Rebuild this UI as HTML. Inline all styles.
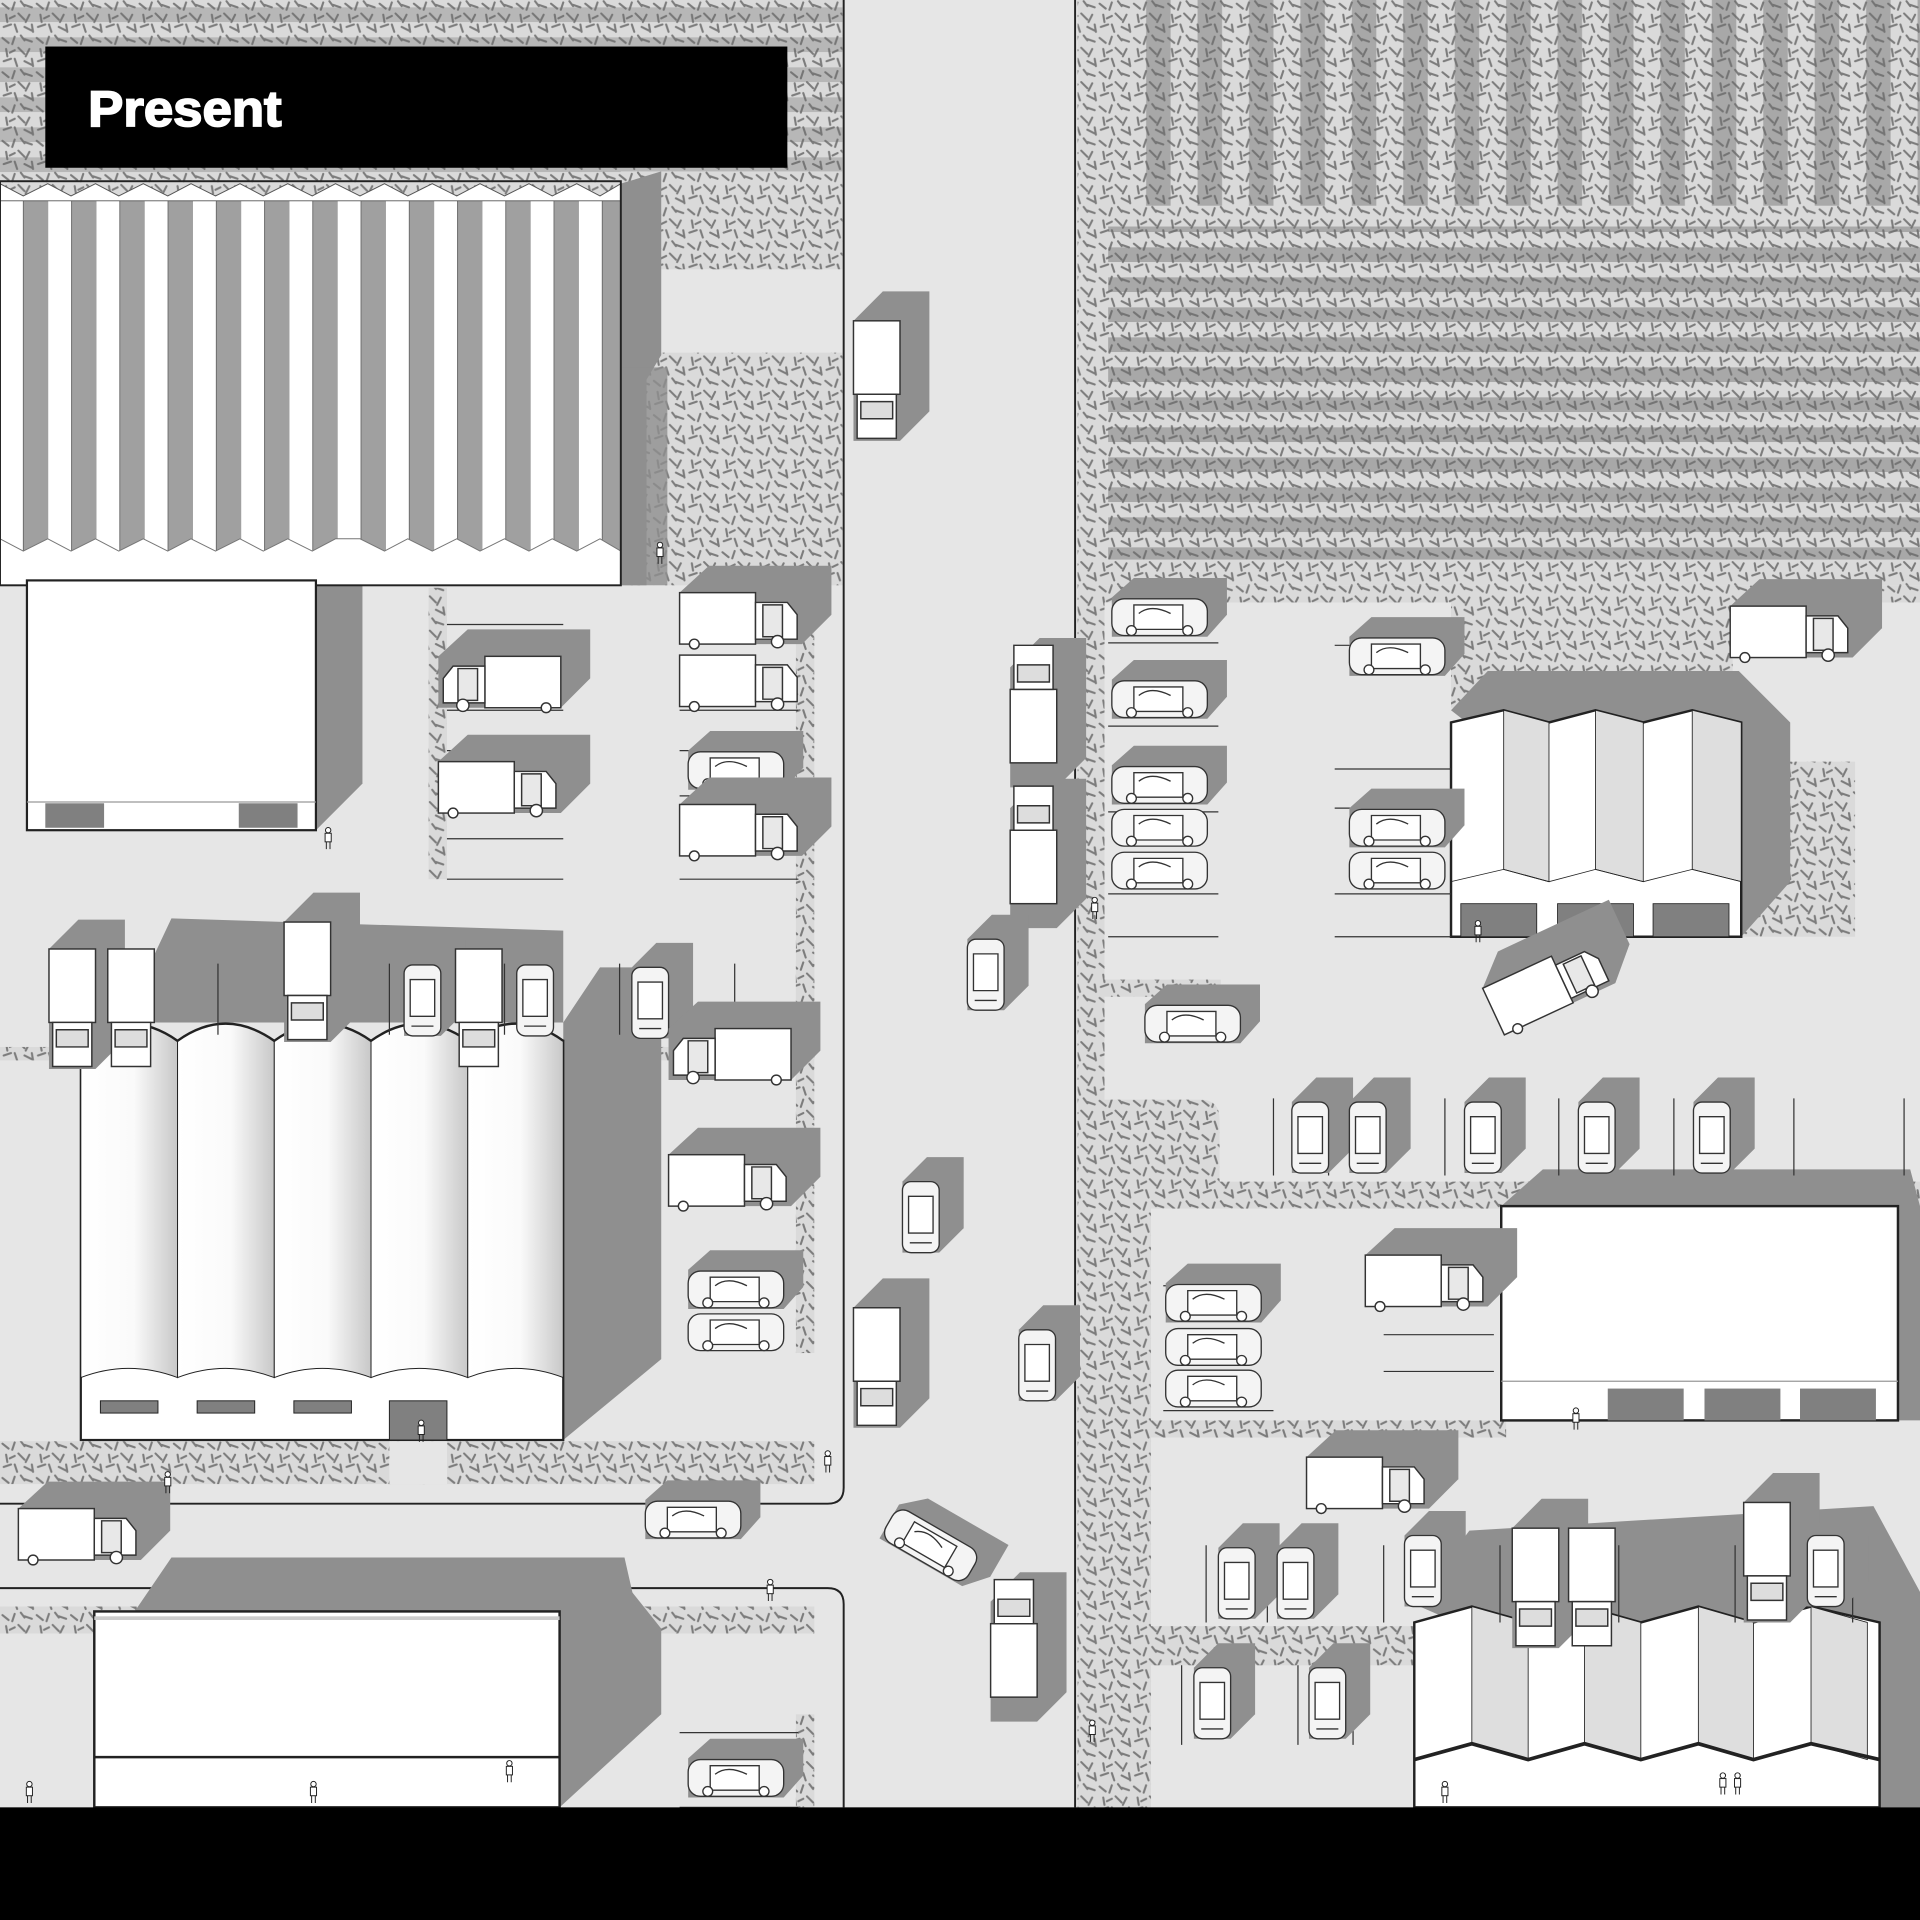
<!DOCTYPE html>
<html><head><meta charset="utf-8"><style>html,body{margin:0;padding:0;background:#e6e6e6;width:1920px;height:1920px;overflow:hidden}svg{display:block}</style></head>
<body>
<svg width="1920" height="1920" viewBox="0 0 1568 1568" xmlns="http://www.w3.org/2000/svg">
<defs>
<pattern id="tx" width="28" height="28" patternUnits="userSpaceOnUse">
<rect width="28" height="28" fill="#dadada"/>
<g stroke="#7c7c7c" stroke-width="1.7" stroke-linecap="round">
<path d="M2 3l5 4M12 2l-2 6M20 4l6 2M5 12l1 6M15 11l5 5M24 12l-3 6M3 22l6-2M12 20l2 6M20 22l6 3M8 15l4-2M17 1l3 4M26 20l1 6"/>
</g></pattern>
<pattern id="vst" width="42" height="10" patternUnits="userSpaceOnUse"><rect x="12" width="20" height="10" fill="#6a6a6a" opacity="0.45"/></pattern>
<pattern id="hst" width="10" height="24.5" patternUnits="userSpaceOnUse"><rect y="6" width="10" height="12" fill="#6a6a6a" opacity="0.45"/></pattern>
<pattern id="saw" width="39.4" height="10" patternUnits="userSpaceOnUse"><rect width="39.4" height="10" fill="#fff"/><rect x="19" width="20.4" height="10" fill="#a0a0a0"/><line x1="19" y1="0" x2="19" y2="10" stroke="#555" stroke-width="0.6"/></pattern>
<linearGradient id="vault" x1="0" x2="1"><stop offset="0" stop-color="#fff"/><stop offset="0.55" stop-color="#fafafa"/><stop offset="1" stop-color="#c8c8c8"/></linearGradient>
<g id="shTH"><polygon points="0,0 24,-22 124,-22 124,18 100,42 0,42" fill="#8f8f8f"/></g>
<g id="truckH" stroke="#333" stroke-width="1.2"><rect x="0" y="0" width="62" height="42" fill="#fff"/><path d="M62 8h26l8 10v20h-34z" fill="#fff"/><path d="M68 10h16v26h-16z" fill="#e8e8e8"/><circle cx="12" cy="42" r="4" fill="#fff"/><circle cx="80" cy="40" r="5" fill="#fff"/></g>
<g id="shCH"><polygon points="0,0 18,-16 94,-16 94,14 78,32 0,32" fill="#8f8f8f"/></g>
<g id="carH" stroke="#333" stroke-width="1.1"><rect x="0" y="1" width="78" height="30" rx="10" fill="#f4f4f4"/><path d="M18 6h40v20h-40z" fill="#fff"/><path d="M22 13q10-8 26 0" fill="none"/><circle cx="16" cy="27" r="4" fill="#fff"/><circle cx="62" cy="27" r="4" fill="#fff"/></g>
<g id="shTV"><polygon points="0,0 24,-24 62,-24 62,74 38,98 0,98" fill="#8f8f8f"/></g>
<g id="truckV" stroke="#333" stroke-width="1.2"><rect x="0" y="0" width="38" height="60" fill="#fff"/><path d="M3 60h32v36h-32z" fill="#fff"/><path d="M6 66h26v14h-26z" fill="#ddd"/></g>
<g id="shCV"><polygon points="0,0 20,-20 50,-20 50,38 30,58 0,58" fill="#8f8f8f"/></g>
<g id="carV" stroke="#333" stroke-width="1.1"><rect x="0" y="0" width="30" height="58" rx="7" fill="#f4f4f4"/><path d="M5 12h20v30h-20z" fill="#fff"/><path d="M6 50h18" fill="none"/></g>
<g id="ppl" stroke="#222" stroke-width="0.8" fill="#fff"><circle cx="4" cy="2" r="2.2"/><rect x="1.5" y="4.5" width="5" height="7"/><path d="M2.5 11.5v6M5.5 11.5v6" fill="none"/></g>
</defs>

<rect width="1568" height="1568" fill="#e6e6e6"/>

<rect x="880" y="0" width="688" height="478" fill="url(#tx)"/>
<rect x="930" y="0" width="638" height="168" fill="url(#vst)"/>
<rect x="905" y="185" width="663" height="272" fill="url(#hst)"/>
<rect x="0" y="0" width="688" height="160" fill="url(#tx)"/>
<rect x="0" y="0" width="688" height="150" fill="url(#hst)" opacity="0.7"/>
<rect x="507" y="140" width="181" height="80" fill="url(#tx)"/>
<rect x="507" y="220" width="181" height="68" fill="#e6e6e6"/>
<rect x="507" y="288" width="181" height="190" fill="url(#tx)"/>
<polygon points="507,150 540,140 540,290 528,310 528,478 507,478" fill="#8f8f8f"/>
<polygon points="507,300 545,300 545,478 507,478" fill="#8f8f8f" opacity="0.8"/>

<path d="M689 0V1215q0 13 -13 13H0" fill="none" stroke="#222" stroke-width="1.6"/>
<path d="M0 1297H676q13 0 13 13V1476" fill="none" stroke="#222" stroke-width="1.6"/>
<line x1="878" y1="0" x2="878" y2="1476" stroke="#222" stroke-width="1.6"/>

<rect x="350" y="480" width="15" height="238" fill="url(#tx)"/>
<rect x="650" y="480" width="15" height="375" fill="url(#tx)"/>
<rect x="650" y="785" width="15" height="320" fill="url(#tx)"/>
<rect x="0" y="855" width="665" height="11" fill="url(#tx)"/>
<rect x="0" y="1177" width="665" height="35" fill="url(#tx)"/>
<rect x="0" y="1312" width="665" height="22" fill="url(#tx)"/>
<rect x="650" y="1400" width="15" height="76" fill="url(#tx)"/>

<rect x="880" y="0" width="22" height="1476" fill="url(#tx)"/>
<rect x="900" y="478" width="668" height="14" fill="url(#tx)"/>
<rect x="1185" y="478" width="230" height="100" fill="url(#tx)"/>
<rect x="1422" y="622" width="93" height="143" fill="url(#tx)"/>
<rect x="902" y="800" width="95" height="14" fill="url(#tx)"/>
<path d="M902 898h78q16 0 16 16v52h-94z" fill="url(#tx)"/>
<rect x="902" y="965" width="666" height="22" fill="url(#tx)"/>
<rect x="902" y="985" width="38" height="510" fill="url(#tx)"/>
<rect x="940" y="1160" width="290" height="14" fill="url(#tx)"/>
<rect x="902" y="1328" width="255" height="32" fill="url(#tx)"/>

<polygon points="258,474 296,474 296,640 258,678" fill="#8f8f8f"/>
<polygon points="460,835 490,790 540,790 540,1110 460,1176" fill="#8f8f8f"/>
<polygon points="100,835 140,750 460,760 460,835" fill="#8f8f8f"/>
<polygon points="457,1316 500,1280 540,1330 540,1400 457,1476" fill="#8f8f8f"/>
<polygon points="110,1316 140,1272 510,1272 520,1316" fill="#8f8f8f"/>
<polygon points="1185,580 1215,548 1420,548 1462,590 1462,720 1422,765" fill="#8f8f8f"/>
<polygon points="1226,985 1260,955 1560,955 1568,985 1568,1160 1550,1160" fill="#8f8f8f"/>
<polygon points="1155,1310 1200,1250 1530,1230 1568,1300 1568,1476 1535,1476" fill="#8f8f8f"/>

<rect x="0" y="160" width="507" height="318" fill="url(#saw)"/>
<path d="M0 150 L19 160 L39 150 L58 160 L78 150 L97 160 L117 150 L137 160 L156 150 L176 160 L196 150 L215 160 L235 150 L255 160 L274 150 L294 160 L314 150 L333 160 L353 150 L373 160 L392 150 L412 160 L432 150 L451 160 L471 150 L490 160 L507 150 L507 164 L0 164Z" fill="#fff" stroke="#555" stroke-width="0.8"/>
<path d="M0 440 L19 450 L39 440 L58 450 L78 440 L97 450 L117 440 L137 450 L156 440 L176 450 L196 440 L215 450 L235 440 L255 450 L274 440 L294 440 L314 450 L333 440 L353 450 L373 440 L392 450 L412 440 L432 450 L451 440 L471 450 L490 440 L507 450 V478 H0Z" fill="#fff" stroke="#777" stroke-width="0.8"/>
<rect x="0" y="148" width="507" height="330" fill="none" stroke="#222" stroke-width="1.6"/>

<rect x="22" y="474" width="236" height="204" fill="#fff" stroke="#222" stroke-width="1.8"/>
<line x1="22" y1="655" x2="258" y2="655" stroke="#999"/>
<rect x="37" y="656" width="48" height="20" fill="#808080"/>
<rect x="195" y="656" width="48" height="20" fill="#808080"/>

<g stroke="#222">
<rect x="66" y="850" width="394" height="326" fill="#fff" stroke-width="1.8"/>
<path d="M66 850 Q105 822 145 850 V1125 Q105 1110 66 1125Z" fill="url(#vault)" stroke-width="0.8"/>
<path d="M145 850 Q184 822 224 850 V1125 Q184 1110 145 1125Z" fill="url(#vault)" stroke-width="0.8"/>
<path d="M224 850 Q263 822 303 850 V1125 Q263 1110 224 1125Z" fill="url(#vault)" stroke-width="0.8"/>
<path d="M303 850 Q342 822 382 850 V1125 Q342 1110 303 1125Z" fill="url(#vault)" stroke-width="0.8"/>
<path d="M382 850 Q421 822 460 850 V1125 Q421 1110 382 1125Z" fill="url(#vault)" stroke-width="0.8"/>
<path d="M66 850 Q105 822 145 850 Q184 822 224 850 Q263 822 303 850 Q342 822 382 850 Q421 822 460 850" fill="none" stroke-width="2"/>
<rect x="82" y="1144" width="47" height="10" fill="#808080" stroke-width="0.8"/>
<rect x="161" y="1144" width="47" height="10" fill="#808080" stroke-width="0.8"/>
<rect x="240" y="1144" width="47" height="10" fill="#808080" stroke-width="0.8"/>
<rect x="318" y="1144" width="47" height="32" fill="#808080" stroke-width="0.8"/>
</g>
<rect x="318" y="1177" width="47" height="35" fill="#e6e6e6"/>

<rect x="77" y="1316" width="380" height="160" fill="#fff" stroke="#222" stroke-width="2"/>
<line x1="77" y1="1435" x2="457" y2="1435" stroke="#222" stroke-width="2"/>
<rect x="77" y="1320" width="380" height="3" fill="#ccc"/>

<g stroke="#222">
<path d="M1185 590 L1228 580 L1265 590 L1303 580 L1342 590 L1382 580 L1422 590 V765 H1185Z" fill="#fff" stroke-width="2"/>
<path d="M1228 580 L1265 590 V720 L1228 710Z" fill="#dedede" stroke-width="0.7"/>
<path d="M1303 580 L1342 590 V720 L1303 710Z" fill="#dedede" stroke-width="0.7"/>
<path d="M1382 580 L1422 590 V720 L1382 710Z" fill="#dedede" stroke-width="0.7"/>
<path d="M1185 720 L1228 710 L1265 720 L1303 710 L1342 720 L1382 710 L1422 720" fill="none" stroke-width="0.7"/>
<rect x="1193" y="738" width="62" height="27" fill="#808080" stroke-width="0.7"/>
<rect x="1272" y="738" width="62" height="27" fill="#808080" stroke-width="0.7"/>
<rect x="1350" y="738" width="62" height="27" fill="#808080" stroke-width="0.7"/>
</g>

<rect x="1226" y="985" width="324" height="175" fill="#fff" stroke="#222" stroke-width="2"/>
<line x1="1226" y1="1128" x2="1550" y2="1128" stroke="#999"/>
<rect x="1313" y="1134" width="62" height="26" fill="#808080"/>
<rect x="1392" y="1134" width="62" height="26" fill="#808080"/>
<rect x="1470" y="1134" width="62" height="26" fill="#808080"/>

<g stroke="#222">
<path d="M1155 1325 L1202 1312 L1248 1325 L1294 1312 L1340 1325 L1387 1312 L1432 1325 L1479 1312 L1535 1325 V1476 H1155Z" fill="#fff" stroke-width="2"/>
<path d="M1202 1312 L1248 1325 V1437 L1202 1424Z" fill="#dedede" stroke-width="0.7"/>
<path d="M1294 1312 L1340 1325 V1437 L1294 1424Z" fill="#dedede" stroke-width="0.7"/>
<path d="M1387 1312 L1432 1325 V1437 L1387 1424Z" fill="#dedede" stroke-width="0.7"/>
<path d="M1479 1312 L1525 1325 V1437 L1479 1424Z" fill="#dedede" stroke-width="0.7"/>
<path d="M1155 1437 L1202 1424 L1248 1437 L1294 1424 L1340 1437 L1387 1424 L1432 1437 L1479 1424 L1535 1437" fill="none" stroke-width="3"/>
</g>

<g stroke="#333" stroke-width="1" fill="none">
<path d="M365 510H460M365 580H460M365 613H460M365 685H460M365 718H460M555 580H652M555 613H652M555 650H652M555 718H652"/>
<path d="M905 525H995M905 593H995M905 663H995M905 730H995M905 765H995M1090 527H1185M1090 628H1185M1090 660H1185M1090 730H1185M1090 765H1185"/>
<path d="M1040 897V960M1085 897V960M1180 897V960M1273 897V960M1367 897V960M1465 897V960M1555 897V960"/>
<path d="M950 1050H1040M950 1152H1040M1130 1090H1220M1130 1120H1220"/>
<path d="M985 1262V1325M1035 1262V1325M1130 1262V1325M1225 1262V1325M1322 1262V1325M1417 1262V1325M1513 1262V1325"/>
<path d="M965 1360V1425M1060 1360V1425M1105 1360V1425"/>
<path d="M178 787V845M272 787V845M318 787V845M412 787V845M506 787V845M555 787V845M600 787V845"/>
<path d="M555 1415H652M555 1476H652"/>
</g>

<use href="#shTV" x="697" y="262"/><use href="#truckV" x="697" y="262"/>
<use href="#shTV" x="825" y="545"/><use href="#truckV" x="825" y="545" transform="translate(1688,1168) rotate(180)"/>
<use href="#shTV" x="825" y="660"/><use href="#truckV" x="825" y="660" transform="translate(1688,1398) rotate(180)"/>
<use href="#shCV" x="790" y="767"/><use href="#carV" x="790" y="767"/>
<use href="#shCV" x="737" y="965"/><use href="#carV" x="737" y="965"/>
<use href="#shTV" x="697" y="1068"/><use href="#truckV" x="697" y="1068"/>
<use href="#shCV" x="832" y="1086"/><use href="#carV" x="832" y="1086"/>
<use href="#shTV" x="809" y="1308"/><use href="#truckV" x="809" y="1308" transform="translate(1656,2694) rotate(180)"/>
<use href="#shCH" x="527" y="1225"/><use href="#carH" x="527" y="1225"/>
<g transform="translate(760,1262) rotate(30) translate(-39,-16)"><use href="#shCH"/><use href="#carH"/></g>
<use href="#shTH" x="358" y="536"/><use href="#truckH" x="358" y="536" transform="translate(816,0) scale(-1,1)"/>
<use href="#shTH" x="555" y="484"/><use href="#truckH" x="555" y="484"/>
<use href="#truckH" x="555" y="535"/>
<use href="#shTH" x="358" y="622"/><use href="#truckH" x="358" y="622"/>
<use href="#shCH" x="562" y="613"/><use href="#carH" x="562" y="613"/>
<use href="#shTH" x="555" y="657"/><use href="#truckH" x="555" y="657"/>
<use href="#shTV" x="40" y="775"/><use href="#truckV" x="40" y="775"/>
<use href="#truckV" x="88" y="775"/>
<use href="#shTV" x="232" y="753"/><use href="#truckV" x="232" y="753"/>
<use href="#shCV" x="330" y="788"/><use href="#carV" x="330" y="788"/>
<use href="#truckV" x="372" y="775"/>
<use href="#carV" x="422" y="788"/>
<use href="#shCV" x="516" y="790"/><use href="#carV" x="516" y="790"/>
<use href="#shTH" x="546" y="840"/><use href="#truckH" x="546" y="840" transform="translate(1192,0) scale(-1,1)"/>
<use href="#shTH" x="546" y="943"/><use href="#truckH" x="546" y="943"/>
<use href="#shCH" x="562" y="1037"/><use href="#carH" x="562" y="1037"/>
<use href="#carH" x="562" y="1072"/>
<use href="#shTH" x="15" y="1232"/><use href="#truckH" x="15" y="1232"/>
<use href="#shCH" x="562" y="1436"/><use href="#carH" x="562" y="1436"/>
<use href="#shCH" x="908" y="488"/><use href="#carH" x="908" y="488"/>
<use href="#shCH" x="908" y="555"/><use href="#carH" x="908" y="555"/>
<use href="#shCH" x="908" y="625"/><use href="#carH" x="908" y="625"/>
<use href="#carH" x="908" y="660"/><use href="#carH" x="908" y="695"/>
<use href="#shCH" x="935" y="820"/><use href="#carH" x="935" y="820"/>
<use href="#shCH" x="1102" y="520"/><use href="#carH" x="1102" y="520"/>
<use href="#shCH" x="1102" y="660"/><use href="#carH" x="1102" y="660"/>
<use href="#carH" x="1102" y="695"/>
<use href="#shTH" x="1413" y="495"/><use href="#truckH" x="1413" y="495"/>
<g transform="translate(1265,805) rotate(-25) translate(-50,-21)"><use href="#shTH"/><use href="#truckH"/></g>
<use href="#shCV" x="1055" y="900"/><use href="#carV" x="1055" y="900"/>
<use href="#shCV" x="1102" y="900"/><use href="#carV" x="1102" y="900"/>
<use href="#shCV" x="1196" y="900"/><use href="#carV" x="1196" y="900"/>
<use href="#shCV" x="1289" y="900"/><use href="#carV" x="1289" y="900"/>
<use href="#shCV" x="1383" y="900"/><use href="#carV" x="1383" y="900"/>
<use href="#shCH" x="952" y="1048"/><use href="#carH" x="952" y="1048"/>
<use href="#carH" x="952" y="1084"/><use href="#carH" x="952" y="1118"/>
<use href="#shTH" x="1115" y="1025"/><use href="#truckH" x="1115" y="1025"/>
<use href="#shTH" x="1067" y="1190"/><use href="#truckH" x="1067" y="1190"/>
<use href="#shCV" x="995" y="1264"/><use href="#carV" x="995" y="1264"/>
<use href="#shCV" x="1043" y="1264"/><use href="#carV" x="1043" y="1264"/>
<use href="#shCV" x="1147" y="1254"/><use href="#carV" x="1147" y="1254"/>
<use href="#shTV" x="1235" y="1248"/><use href="#truckV" x="1235" y="1248"/>
<use href="#truckV" x="1281" y="1248"/>
<use href="#shTV" x="1424" y="1227"/><use href="#truckV" x="1424" y="1227"/>
<use href="#shCV" x="1476" y="1254"/><use href="#carV" x="1476" y="1254"/>
<use href="#shCV" x="975" y="1362"/><use href="#carV" x="975" y="1362"/>
<use href="#shCV" x="1069" y="1362"/><use href="#carV" x="1069" y="1362"/>

<use href="#ppl" x="535" y="443"/><use href="#ppl" x="264" y="676"/><use href="#ppl" x="340" y="1160"/>
<use href="#ppl" x="133" y="1202"/><use href="#ppl" x="672" y="1185"/><use href="#ppl" x="625" y="1290"/>
<use href="#ppl" x="890" y="733"/><use href="#ppl" x="1203" y="752"/><use href="#ppl" x="1283" y="1150"/>
<use href="#ppl" x="888" y="1405"/><use href="#ppl" x="20" y="1455"/><use href="#ppl" x="252" y="1455"/>
<use href="#ppl" x="412" y="1438"/><use href="#ppl" x="1176" y="1455"/><use href="#ppl" x="1403" y="1448"/><use href="#ppl" x="1415" y="1448"/>

<rect x="0" y="1476" width="1568" height="92" fill="#000"/>

<rect x="37" y="38" width="606" height="99" fill="#000"/>
<text x="72" y="103" font-family="Liberation Sans, sans-serif" font-weight="bold" font-size="41" fill="#fff" stroke="#fff" stroke-width="1.4" textLength="158" lengthAdjust="spacingAndGlyphs">Present</text>
</svg>
</body></html>
